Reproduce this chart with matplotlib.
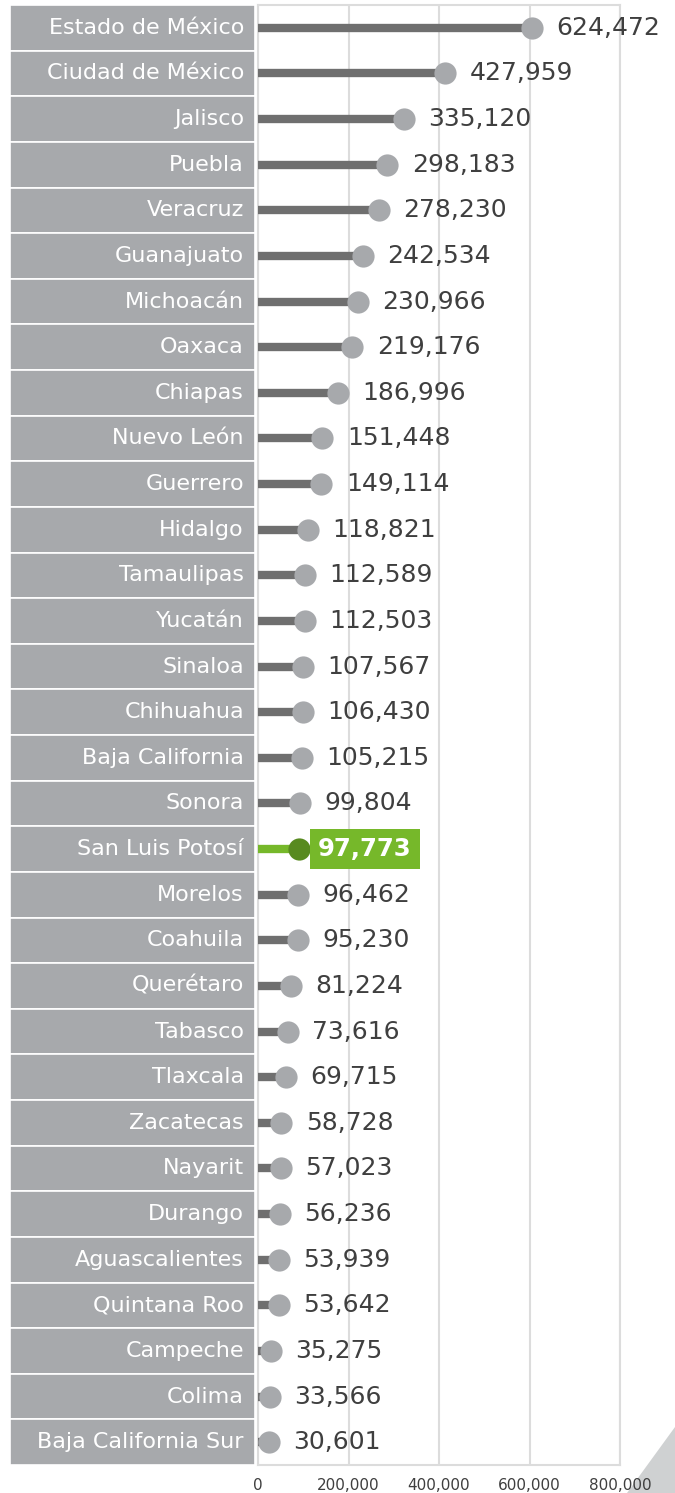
import matplotlib
matplotlib.use("Agg")
import matplotlib.pyplot as plt
from matplotlib.patches import Polygon
from matplotlib.transforms import offset_copy

plt.rcParams["font.family"] = ["DejaVu Sans"]

# datos por entidad federativa
estados = [
    "Estado de México", "Ciudad de México", "Jalisco", "Puebla", "Veracruz",
    "Guanajuato", "Michoacán", "Oaxaca", "Chiapas", "Nuevo León", "Guerrero",
    "Hidalgo", "Tamaulipas", "Yucatán", "Sinaloa", "Chihuahua",
    "Baja California", "Sonora", "San Luis Potosí", "Morelos", "Coahuila",
    "Querétaro", "Tabasco", "Tlaxcala", "Zacatecas", "Nayarit", "Durango",
    "Aguascalientes", "Quintana Roo", "Campeche", "Colima",
    "Baja California Sur",
]
valores = [
    624472, 427959, 335120, 298183, 278230, 242534, 230966, 219176, 186996,
    151448, 149114, 118821, 112589, 112503, 107567, 106430, 105215, 99804,
    97773, 96462, 95230, 81224, 73616, 69715, 58728, 57023, 56236, 53939,
    53642, 35275, 33566, 30601,
]
destacado = "San Luis Potosí"
ticks_x = [0, 200000, 400000, 600000, 800000]

GRIS_BARRA = "#6f6f6f"
GRIS_PUNTO = "#a7a9ac"
GRIS_CAJA = "#a7a9ac"
VERDE = "#76b82a"
VERDE_OSCURO = "#588a1f"
TEXTO = "#3f3f3f"
MARCO = "#dcdcdc"

W, H = 675, 1493
fig = plt.figure(figsize=(W / 100, H / 100), dpi=100)

top, bottom = 5, 1465
x0, x1 = 258, 620
ax = fig.add_axes([x0 / W, 1 - bottom / H, (x1 - x0) / W, (bottom - top) / H])
ax_lab = fig.add_axes([10 / W, 1 - bottom / H, (255 - 10) / W, (bottom - top) / H])

XMAX = 800000

n = len(estados)
for i, (nombre, v) in enumerate(zip(estados, valores)):
    es_slp = nombre == destacado
    # en el original el punto queda un poco a la izquierda del valor
    dx = (-2.6 - 0.0000095 * v) * 72 / 100  # en puntos
    ax.plot([0, v], [i, i], color=VERDE if es_slp else GRIS_BARRA,
            lw=6, solid_capstyle="butt", zorder=3)
    ax.plot(v, i, "o", ms=16, color=VERDE_OSCURO if es_slp else GRIS_PUNTO,
            mec="none", zorder=4,
            transform=offset_copy(ax.transData, fig, x=dx, y=0, units="points"))
    etiqueta = f"{v:,}"
    if es_slp:
        ax.annotate(etiqueta, (v, i), xytext=(dx + 14, 0), textcoords="offset points",
                    ha="left", va="center", fontsize=17.5, fontweight="bold",
                    color="white", zorder=5,
                    bbox=dict(boxstyle="square,pad=0.32", fc=VERDE, ec="none"))
    else:
        ax.annotate(etiqueta, (v, i), xytext=(dx + 17.5, 0), textcoords="offset points",
                    ha="left", va="center", fontsize=18, color=TEXTO, zorder=5)

    # cajas de etiquetas
    ax_lab.barh(i, 1, height=1, left=0, color=GRIS_CAJA, edgecolor="white", lw=1.2)
    ax_lab.text(0.955, i, nombre, ha="right", va="center", fontsize=16,
                color="white", transform=ax_lab.get_yaxis_transform())

ax.set_xlim(0, XMAX)
ax.set_ylim(n - 0.5, -0.5)
ax.set_xticks(ticks_x)
ax.set_xticklabels([f"{t:,}" for t in ticks_x], fontsize=11, color=TEXTO)
ax.tick_params(axis="x", length=0, pad=9)
ax.set_yticks([])
ax.grid(axis="x", color=MARCO, lw=1.5, zorder=0)
for s in ax.spines.values():
    s.set_color(MARCO)
    s.set_linewidth(1.5)

ax_lab.set_xlim(0, 1)
ax_lab.set_ylim(n - 0.5, -0.5)
ax_lab.axis("off")

# triángulo decorativo
fig.patches.append(Polygon([(627 / W, 0), (1, 0), (1, 1 - 1427 / H)],
                           closed=True, transform=fig.transFigure,
                           fc="#cfd1d2", ec="none", zorder=-1))

fig.savefig("out.png", dpi=100)
